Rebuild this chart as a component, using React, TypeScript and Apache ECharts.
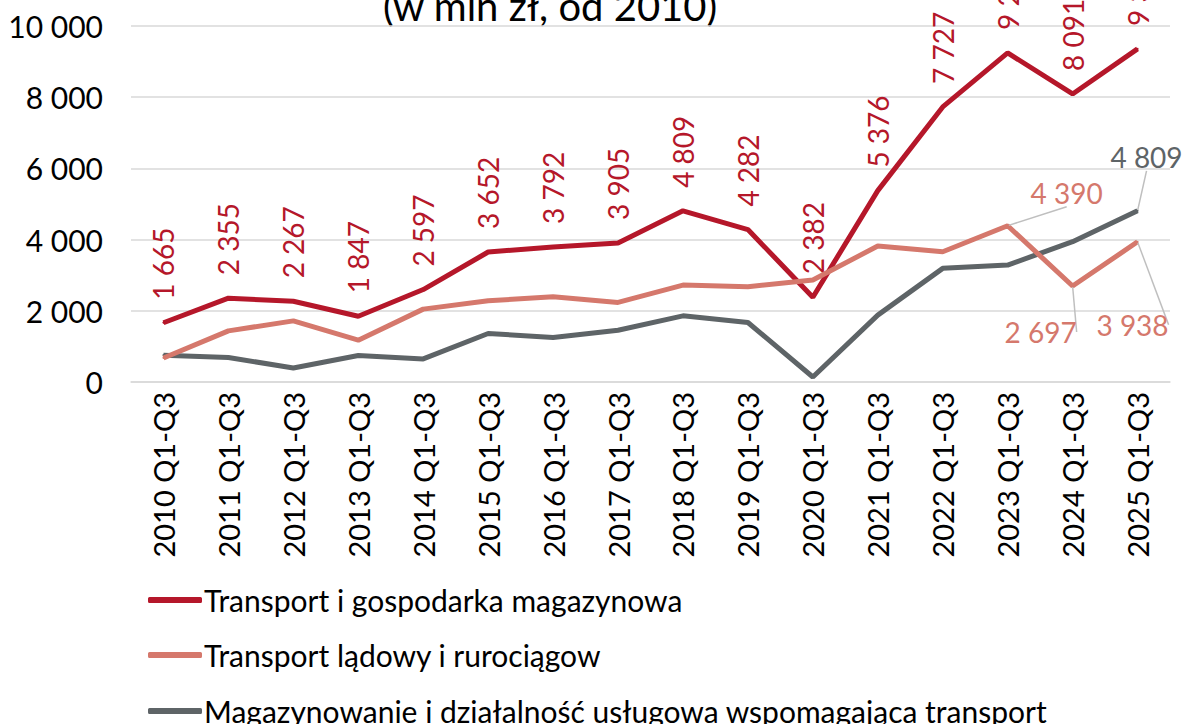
import React, { useEffect, useRef } from "react";
import * as echarts from "echarts";

const categories = [
  "2010 Q1-Q3", "2011 Q1-Q3", "2012 Q1-Q3", "2013 Q1-Q3", "2014 Q1-Q3", "2015 Q1-Q3",
  "2016 Q1-Q3", "2017 Q1-Q3", "2018 Q1-Q3", "2019 Q1-Q3", "2020 Q1-Q3", "2021 Q1-Q3",
  "2022 Q1-Q3", "2023 Q1-Q3", "2024 Q1-Q3", "2025 Q1-Q3",
];
const transportTotal = [1665, 2355, 2267, 1847, 2597, 3652, 3792, 3905, 4809, 4282, 2382, 5376, 7727, 9245, 8091, 9357];
const landTransport = [676, 1436, 1717, 1174, 2047, 2280, 2393, 2235, 2722, 2675, 2863, 3820, 3660, 4390, 2697, 3938];
const warehousing = [752, 687, 394, 743, 648, 1362, 1250, 1455, 1858, 1672, 141, 1878, 3192, 3285, 3941, 4809];
const seriesNames = [
  "Transport i gospodarka magazynowa",
  "Transport lądowy i rurociągow",
  "Magazynowanie i działalność usługowa wspomagająca transport",
];
const titleText = "(w mln zł, od 2010)";

const RED = "#B5172A";
const PINK = "#D5786C";
const GRAY = "#5E6467";
const FONT = "Lato";

const fmt = (v: number) => String(Math.round(v)).replace(/\B(?=(\d{3})+(?!\d))/g, " ");

// label offsets (px) for the few annotated points
const pinkLabelOffsets: Record<number, number[]> = { 13: [59, -33], 14: [-32, 46], 15: [-5, 83] };
const grayLabelOffsets: Record<number, number[]> = { 15: [9, -54] };

function withLabels(values: number[], offsets: Record<number, number[]>, color: string) {
  return values.map((v, i) => {
    const off = offsets[i];
    if (!off) return v;
    return {
      value: v,
      label: {
        show: true,
        position: "inside",
        offset: off,
        color,
        fontSize: 28,
        fontFamily: FONT,
        formatter: (p: any) => fmt(p.value),
      },
      labelLine: { show: true, lineStyle: { color: "#BFBFBF", width: 1.5 } },
    };
  });
}

const legendTops = [580, 635, 691];

export default function App() {
  const ref = useRef<HTMLDivElement>(null);
  useEffect(() => {
    if (!ref.current) return;
    const chart = echarts.init(ref.current, undefined, { renderer: "svg" });
    chart.setOption({
      animation: false,
      backgroundColor: "#fff",
      textStyle: { fontFamily: FONT },
      graphic: [
        {
          type: "text",
          left: 383,
          top: -14,
          style: { text: titleText, fontSize: 40, fontFamily: FONT, fill: "#000" },
        },
      ],
      grid: { left: 131, right: 13, top: 26, bottom: 342, containLabel: false },
      legend: seriesNames.map((name, i) => ({
        orient: "vertical",
        left: 143,
        top: legendTops[i],
        itemWidth: 54,
        itemHeight: 6,
        icon: "roundRect",
        data: [name],
        textStyle: { fontSize: 30, fontFamily: FONT, color: "#000", padding: [0, 0, 0, -3] },
      })),
      xAxis: {
        type: "category",
        data: categories,
        boundaryGap: true,
        axisLine: { show: true, lineStyle: { color: "#D9D9D9", width: 1.5 } },
        axisTick: { show: false },
        axisLabel: { rotate: 90, margin: 10, fontSize: 29, fontFamily: FONT, color: "#000", interval: 0 },
      },
      yAxis: {
        type: "value",
        min: 0,
        max: 10000,
        interval: 2000,
        axisLine: { show: false },
        axisTick: { show: false },
        splitLine: { lineStyle: { color: "#D9D9D9", width: 1.5 } },
        axisLabel: { margin: 28, fontSize: 30, fontFamily: FONT, color: "#000", formatter: (v: number) => fmt(v) },
      },
      series: [
        {
          name: seriesNames[0],
          type: "line",
          data: transportTotal,
          z: 2,
          symbol: "circle",
          symbolSize: 2,
          showSymbol: true,
          itemStyle: { color: RED },
          lineStyle: { color: RED, width: 5 },
          label: {
            show: true,
            position: "top",
            distance: 22,
            rotate: 90,
            align: "left",
            verticalAlign: "middle",
            color: RED,
            fontSize: 28,
            fontFamily: FONT,
            formatter: (p: any) => fmt(p.value),
          },
        },
        {
          name: seriesNames[1],
          type: "line",
          data: withLabels(landTransport, pinkLabelOffsets, PINK),
          z: 4,
          symbol: "circle",
          symbolSize: 2,
          showSymbol: true,
          itemStyle: { color: PINK },
          lineStyle: { color: PINK, width: 5 },
          label: { show: false },
        },
        {
          name: seriesNames[2],
          type: "line",
          data: withLabels(warehousing, grayLabelOffsets, GRAY),
          z: 3,
          symbol: "circle",
          symbolSize: 2,
          showSymbol: true,
          itemStyle: { color: GRAY },
          lineStyle: { color: GRAY, width: 5 },
          label: { show: false },
        },
      ],
    });
    return () => chart.dispose();
  }, []);
  return <div ref={ref} style={{ width: 1183, height: 724, position: "absolute", left: 0, top: 0 }} />;
}
